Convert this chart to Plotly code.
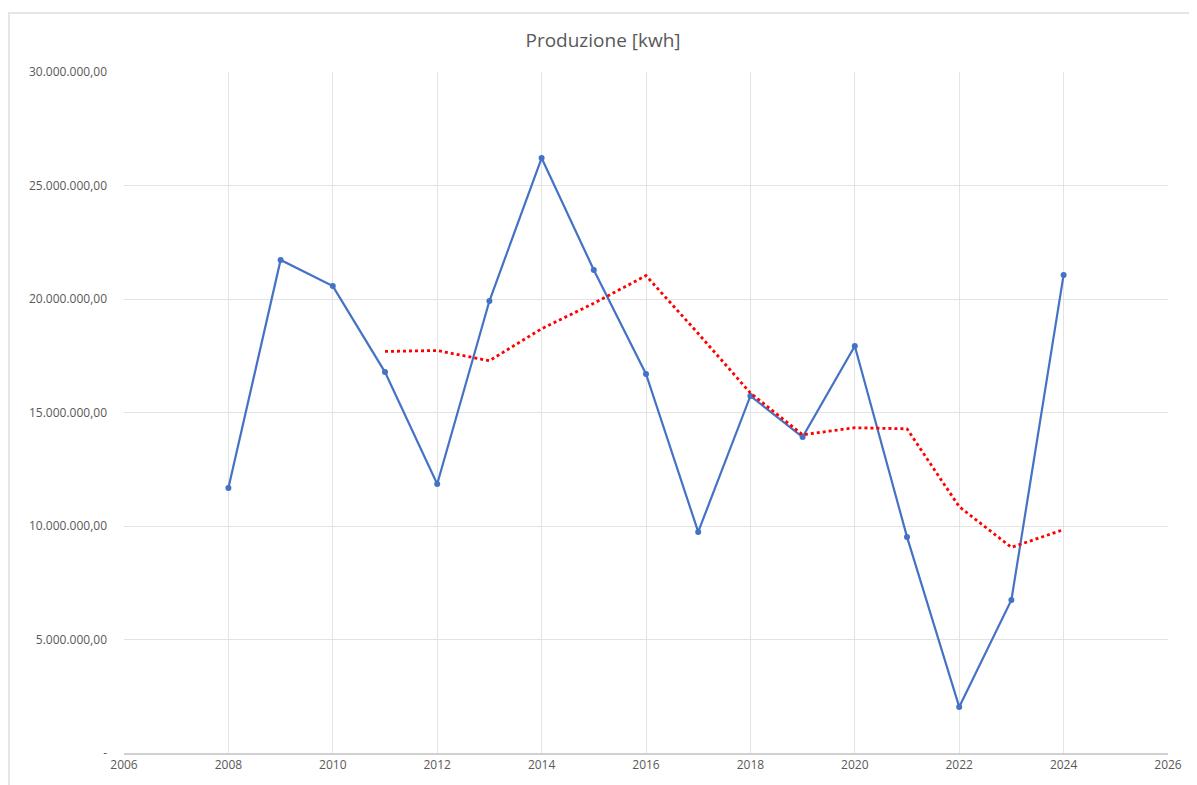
import plotly.graph_objects as go

years = [2008, 2009, 2010, 2011, 2012, 2013, 2014, 2015, 2016, 2017, 2018, 2019, 2020, 2021, 2022, 2023, 2024]
produzione = [11670000, 21720000, 20570000, 16780000, 11850000, 19910000, 26210000, 21280000,
              16700000, 9740000, 15730000, 13920000, 17930000, 9520000, 2030000, 6740000, 21060000]

ma_years = [2011, 2012, 2013, 2014, 2015, 2016, 2017, 2018, 2019, 2020, 2021, 2022, 2023, 2024]
media_mobile = [17690000, 17730000, 17280000, 18690000, 19810000, 21030000, 18480000,
                15860000, 14020000, 14330000, 14280000, 10850000, 9060000, 9840000]

y_tickvals = [0, 5000000, 10000000, 15000000, 20000000, 25000000, 30000000]
y_ticktext = ["-", "5.000.000,00", "10.000.000,00", "15.000.000,00", "20.000.000,00",
              "25.000.000,00", "30.000.000,00"]
x_tickvals = [2006, 2008, 2010, 2012, 2014, 2016, 2018, 2020, 2022, 2024, 2026]

fig = go.Figure()
fig.add_trace(go.Scatter(
    x=years, y=produzione, mode="lines+markers",
    line=dict(color="#4472C4", width=2.2),
    marker=dict(color="#4472C4", size=6),
    showlegend=False, name="Produzione"))
fig.add_trace(go.Scatter(
    x=ma_years, y=media_mobile, mode="lines",
    line=dict(color="#FF0000", width=2.8, dash="dot"),
    showlegend=False, name="Media mobile"))

# page has an 8px body margin
OFF = 8
W, H = 1197 - OFF, 785 - OFF
PL, PR, PT, PB = 124, 1168, 72, 753  # plot area in page pixels
ml, mt = PL - OFF, PT - OFF
mr, mb = 1197 - PR, 785 - PB
pw, ph = PR - PL, PB - PT

def px_x(p):
    return (p - PL) / pw

def px_y(p):
    return (PB - p) / ph

fig.update_layout(
    width=W, height=H,
    margin=dict(l=ml, r=mr, t=mt, b=mb),
    paper_bgcolor="white", plot_bgcolor="white",
    font=dict(family="Open Sans, Liberation Sans, sans-serif", color="#595959"),
    title=dict(text="Produzione [kwh]", x=(603 - OFF) / W, xanchor="center",
               y=1 - (40 - OFF) / H, yanchor="middle",
               font=dict(size=19, color="#595959")),
    xaxis=dict(range=[2006, 2026], tickvals=x_tickvals, ticktext=[str(v) for v in x_tickvals],
               showgrid=True, gridcolor="#E3E3E3", gridwidth=1,
               showline=True, linecolor="#D0D0D0", linewidth=1.5, mirror=False,
               zeroline=False, ticks="", tickfont=dict(size=12, color="#595959")),
    yaxis=dict(range=[0, 30000000], tickvals=y_tickvals, ticktext=y_ticktext,
               showgrid=True, gridcolor="#E3E3E3", gridwidth=1,
               showline=False, zeroline=False, ticks="", ticklabelstandoff=16,
               tickfont=dict(size=12, color="#595959")),
    shapes=[dict(type="rect", xref="paper", yref="paper",
                 x0=px_x(9), x1=px_x(1195), y0=px_y(800), y1=px_y(13),
                 line=dict(color="#E6E6E6", width=2), fillcolor="rgba(0,0,0,0)", layer="below")],
)

fig.write_html("out.html")
